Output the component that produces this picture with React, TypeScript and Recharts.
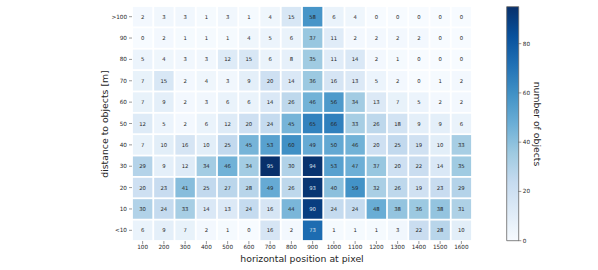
import {Bar, BarChart, Scatter, ScatterChart, XAxis, YAxis} from "recharts";

const xLabels = ["100", "200", "300", "400", "500", "600", "700", "800", "900", "1000", "1100", "1200", "1300", "1400", "1500", "1600"];
// top to bottom, as drawn
const yLabels = [">100", "90", "80", "70", "60", "50", "40", "30", "20", "10", "<10"];

const rowOver100 = [2, 3, 3, 1, 3, 1, 4, 15, 58, 6, 4, 0, 0, 0, 0, 0];
const row90 = [0, 2, 1, 1, 1, 4, 5, 6, 37, 11, 2, 2, 2, 2, 0, 0];
const row80 = [5, 4, 3, 3, 12, 15, 6, 8, 35, 11, 14, 2, 1, 0, 0, 0];
const row70 = [7, 15, 2, 4, 3, 9, 20, 14, 36, 16, 13, 5, 2, 0, 1, 2];
const row60 = [7, 9, 2, 3, 6, 6, 14, 26, 46, 56, 34, 13, 7, 5, 2, 2];
const row50 = [12, 5, 2, 6, 12, 20, 24, 45, 65, 66, 33, 26, 18, 9, 9, 6];
const row40 = [7, 10, 16, 10, 25, 45, 53, 60, 49, 50, 46, 20, 25, 19, 10, 33];
const row30 = [29, 9, 12, 34, 46, 34, 95, 30, 94, 53, 47, 37, 20, 22, 14, 35];
const row20 = [20, 23, 41, 25, 27, 28, 49, 26, 93, 40, 59, 32, 26, 19, 23, 29];
const row10 = [30, 24, 33, 14, 13, 24, 16, 44, 90, 24, 24, 48, 38, 36, 38, 31];
const rowUnder10 = [6, 9, 7, 2, 1, 0, 16, 2, 73, 1, 1, 1, 3, 22, 28, 10];

const rows = [rowOver100, row90, row80, row70, row60, row50, row40, row30, row20, row10, rowUnder10];

const colorbarTicks = [0, 20, 40, 60, 80];
const VMAX = 95;

// matplotlib "Blues"
const BLUES = ["#f7fbff", "#deebf7", "#c6dbef", "#9ecae1", "#6baed6", "#4292c6", "#2171b5", "#08519c", "#08306b"];

function hexToRgb(hex: string) {
    const n = parseInt(hex.slice(1), 16);
    return [(n >> 16) & 255, (n >> 8) & 255, n & 255];
}

function blues(t: number) {
    const c = Math.max(0, Math.min(1, t)) * (BLUES.length - 1);
    const i = Math.min(Math.floor(c), BLUES.length - 2);
    const f = c - i;
    const a = hexToRgb(BLUES[i]);
    const b = hexToRgb(BLUES[i + 1]);
    const mix = a.map((v, k) => Math.round(v + (b[k] - v) * f));
    return `rgb(${mix[0]},${mix[1]},${mix[2]})`;
}

const cells = rows.flatMap((row, r) =>
    row.map((v, c) => ({x: c, y: rows.length - 1 - r, v}))
);

const WIDTH = 598;
const HEIGHT = 270;
const MARGIN = {top: 6, right: 126, bottom: 0, left: 0};
const Y_AXIS_W = 132;
const X_AXIS_H = 29;
const CELL_W = (WIDTH - MARGIN.left - MARGIN.right - Y_AXIS_W) / xLabels.length;
const CELL_H = (HEIGHT - MARGIN.top - MARGIN.bottom - X_AXIS_H) / yLabels.length;
const GAP = 0.9;

const textColor = "#262626";
const tickStyle = {fontSize: 5.7, fill: textColor, fontFamily: "DejaVu Sans"};

const HeatCell = (props: any) => {
    const {cx, cy, payload} = props;
    const dark = payload.v / VMAX > 0.72;
    return (
        <g>
            <rect
                x={cx - CELL_W / 2 + GAP}
                y={cy - CELL_H / 2 + GAP}
                width={CELL_W - 2 * GAP}
                height={CELL_H - 2 * GAP}
                fill={blues(payload.v / VMAX)}
            />
            <text
                x={cx}
                y={cy}
                textAnchor="middle"
                dominantBaseline="central"
                fontSize={5.3}
                fontFamily="DejaVu Sans"
                fill={dark ? "#dde4ee" : textColor}
            >
                {payload.v}
            </text>
        </g>
    );
};

const labelStyle = {
    position: "absolute" as const,
    transform: "translate(-50%, -50%)",
    fontSize: 9.3,
    lineHeight: 1,
    whiteSpace: "nowrap" as const,
    color: textColor,
    fontFamily: "DejaVu Sans"
};

const App = () => {
    return (
        <div style={{position: "absolute", left: 0, top: 0, width: WIDTH, height: HEIGHT, background: "#fff"}}>
            <ScatterChart width={WIDTH} height={HEIGHT} margin={MARGIN}>
                <XAxis
                    type="number"
                    dataKey="x"
                    domain={[-0.5, xLabels.length - 0.5]}
                    ticks={xLabels.map((_, i) => i)}
                    tickFormatter={(i) => xLabels[i]}
                    height={X_AXIS_H}
                    axisLine={false}
                    tickSize={3}
                    tickMargin={1}
                    tick={tickStyle}
                    tickLine={{stroke: "#555", strokeWidth: 0.6}}
                    interval={0}
                />
                <YAxis
                    type="number"
                    dataKey="y"
                    domain={[-0.5, yLabels.length - 0.5]}
                    ticks={yLabels.map((_, i) => i)}
                    tickFormatter={(i) => yLabels[yLabels.length - 1 - i]}
                    width={Y_AXIS_W}
                    axisLine={false}
                    tickSize={3}
                    tickMargin={2}
                    tick={tickStyle}
                    tickLine={{stroke: "#555", strokeWidth: 0.6}}
                    interval={0}
                />
                <Scatter data={cells} shape={HeatCell} isAnimationActive={false}/>
            </ScatterChart>

            <div style={{position: "absolute", left: 500, top: 0}}>
                <BarChart
                    width={50}
                    height={HEIGHT}
                    data={[{name: "cb", v: VMAX}]}
                    margin={{top: 6.7, right: 0, bottom: 29.3, left: 6.7}}
                    barCategoryGap={0}
                >
                    <defs>
                        <linearGradient id="bluesGrad" x1="0" y1="1" x2="0" y2="0">
                            {BLUES.map((c, i) => (
                                <stop key={c} offset={`${(i / (BLUES.length - 1)) * 100}%`} stopColor={c}/>
                            ))}
                        </linearGradient>
                    </defs>
                    <XAxis dataKey="name" hide/>
                    <YAxis
                        orientation="right"
                        domain={[0, VMAX]}
                        ticks={colorbarTicks}
                        width={31.7}
                        axisLine={false}
                        tickSize={3}
                        tickMargin={1.5}
                        tick={tickStyle}
                        tickLine={{stroke: "#555", strokeWidth: 0.6}}
                    />
                    <Bar dataKey="v" fill="url(#bluesGrad)" stroke="#666" strokeWidth={0.8} isAnimationActive={false}/>
                </BarChart>
            </div>

            <div style={{...labelStyle, left: 302, top: 259}}>horizontal position at pixel</div>
            <div style={{...labelStyle, left: 105, top: 123.5, transform: "translate(-50%, -50%) rotate(-90deg)"}}>
                distance to objects [m]
            </div>
            <div style={{...labelStyle, left: 537, top: 123.5, transform: "translate(-50%, -50%) rotate(90deg)"}}>
                number of objects
            </div>
        </div>
    );
};

export default App;
